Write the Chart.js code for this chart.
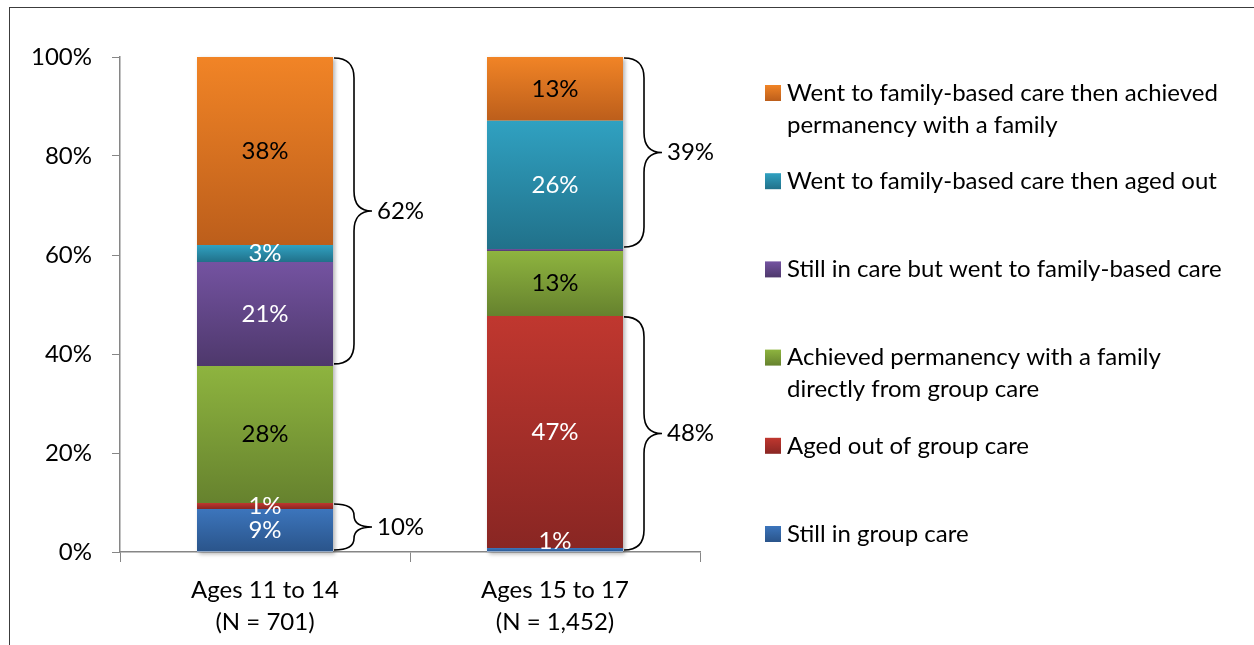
<!DOCTYPE html>
<html>
<head>
<meta charset="utf-8">
<title>Group care outcomes by age</title>
<script src="https://cdn.jsdelivr.net/npm/chart.js@4"></script>
<style>
html, body { margin: 0; padding: 0; background: #fff; }
#wrap { position: relative; width: 1254px; height: 645px; overflow: hidden; }
#frame { position: absolute; left: 9px; top: 7px; width: 1300px; height: 700px;
  border-left: 1.5px solid #3c3c3c; border-top: 1.5px solid #3c3c3c; pointer-events: none; }
</style>
</head>
<body>
<div id="wrap">
  <canvas id="outcomeChart" width="1254" height="645"></canvas>
  <div id="frame"></div>
</div>
<script>
// categories on the x axis (two lines each)
const categories = [["Ages 11 to 14", "(N = 701)"], ["Ages 15 to 17", "(N = 1,452)"]];

// values in percent, stack order from the bottom up
const stillInGroupCare = [8.7, 0.8];
const agedOutOfGroupCare = [1.2, 46.9];
const permanencyFromGroupCare = [27.7, 13.1];
const stillInCareFamilyBased = [21.0, 0.4];
const familyBasedThenAgedOut = [3.4, 25.9];
const familyBasedThenPermanency = [38.0, 12.9];

const yTicks = [0, 20, 40, 60, 80, 100];

// braces to the right of the bars
const bracketText = ["62%", "10%", "39%", "48%"];
const bracketCategory = [0, 0, 1, 1];
const bracketFrom = [3, 0, 4, 0];
const bracketTo = [5, 1, 5, 1];

const series = [
  { name: ["Still in group care"], data: stillInGroupCare, top: "#3C75BC", bottom: "#2A548A", text: "#fff" },
  { name: ["Aged out of group care"], data: agedOutOfGroupCare, top: "#C0372F", bottom: "#892623", text: "#fff" },
  { name: ["Achieved permanency with a family", "directly from group care"], data: permanencyFromGroupCare, top: "#8EB43F", bottom: "#66822E", text: "#000" },
  { name: ["Still in care but went to family-based care"], data: stillInCareFamilyBased, top: "#7453A1", bottom: "#4E386C", text: "#fff" },
  { name: ["Went to family-based care then aged out"], data: familyBasedThenAgedOut, top: "#30A1C1", bottom: "#21718A", text: "#fff" },
  { name: ["Went to family-based care then achieved", "permanency with a family"], data: familyBasedThenPermanency, top: "#F18426", bottom: "#BC5E1B", text: "#000" }
];

const FONT = "Lato";
const FSIZE = 24;
Chart.defaults.font.family = FONT;
Chart.defaults.font.size = FSIZE;
Chart.defaults.color = "#000";

function segmentFill(ctx) {
  const s = series[ctx.datasetIndex];
  const chart = ctx.chart;
  const y = chart.scales.y;
  if (ctx.type !== "data" || !chart.chartArea || !y) return s.top;
  const sets = chart.data.datasets;
  let start = 0;
  for (let k = 0; k < ctx.datasetIndex; k++) start += sets[k].data[ctx.dataIndex];
  const end = start + sets[ctx.datasetIndex].data[ctx.dataIndex];
  const p0 = y.getPixelForValue(end), p1 = y.getPixelForValue(start);
  if (!(p1 > p0)) return s.top;
  const g = chart.ctx.createLinearGradient(0, p0, 0, p1);
  g.addColorStop(0, s.top);
  g.addColorStop(1, s.bottom);
  return g;
}

// soft shadow behind each whole bar
const barShadow = {
  id: "barShadow",
  beforeDatasetsDraw(chart) {
    const ctx = chart.ctx, y = chart.scales.y;
    const meta = chart.getDatasetMeta(0);
    ctx.save();
    ctx.shadowColor = "rgba(0,0,0,0.3)";
    ctx.shadowBlur = 4;
    ctx.shadowOffsetX = 2;
    ctx.shadowOffsetY = 2;
    ctx.fillStyle = "#fff";
    meta.data.forEach((el, i) => {
      let total = 0;
      chart.data.datasets.forEach(d => total += d.data[i]);
      const top = y.getPixelForValue(total), base = y.getPixelForValue(0);
      ctx.fillRect(el.x - el.width / 2, top, el.width, base - top);
    });
    ctx.restore();
  }
};

// value labels in the middle of each segment
const segmentLabels = {
  id: "segmentLabels",
  afterDatasetsDraw(chart) {
    const ctx = chart.ctx;
    const floor = chart.chartArea.bottom - 11;
    ctx.save();
    ctx.font = FSIZE + "px " + FONT;
    ctx.textAlign = "center";
    ctx.textBaseline = "middle";
    chart.data.datasets.forEach((d, ds) => {
      chart.getDatasetMeta(ds).data.forEach((el, i) => {
        const v = d.data[i];
        if (v < 0.5) return;
        let cy = (el.y + el.base) / 2;
        if (cy > floor) cy = floor;
        ctx.fillStyle = series[ds].text;
        ctx.fillText(Math.round(v) + "%", el.x, cy);
      });
    });
    ctx.restore();
  }
};

// curly braces with totals
const braces = {
  id: "braces",
  afterDatasetsDraw(chart) {
    const ctx = chart.ctx, y = chart.scales.y;
    const sets = chart.data.datasets;
    ctx.save();
    ctx.strokeStyle = "#000";
    ctx.lineWidth = 1.6;
    ctx.fillStyle = "#000";
    ctx.font = FSIZE + "px " + FONT;
    ctx.textBaseline = "middle";
    bracketText.forEach((txt, b) => {
      const c = bracketCategory[b];
      let lo = 0;
      for (let k = 0; k < bracketFrom[b]; k++) lo += sets[k].data[c];
      let hi = lo;
      for (let k = bracketFrom[b]; k <= bracketTo[b]; k++) hi += sets[k].data[c];
      const el = chart.getDatasetMeta(0).data[c];
      const x0 = el.x + el.width / 2 + 1;
      const top = y.getPixelForValue(hi) + 1, bottom = y.getPixelForValue(lo) - 2;
      const mid = (top + bottom) / 2;
      const w = 20;
      const r = Math.min(20, (bottom - top) / 4);
      ctx.beginPath();
      ctx.moveTo(x0, top);
      ctx.quadraticCurveTo(x0 + w, top, x0 + w, top + r);
      ctx.lineTo(x0 + w, mid - r);
      ctx.quadraticCurveTo(x0 + w, mid, x0 + w + 18, mid);
      ctx.moveTo(x0 + w + 18, mid);
      ctx.quadraticCurveTo(x0 + w, mid, x0 + w, mid + r);
      ctx.lineTo(x0 + w, bottom - r);
      ctx.quadraticCurveTo(x0 + w, bottom, x0, bottom);
      ctx.stroke();
      ctx.textAlign = "left";
      ctx.fillText(txt, x0 + w + 23, mid);
    });
    ctx.restore();
  }
};

// legend at the right, top entry = top of the stack
const sideLegend = {
  id: "sideLegend",
  afterDraw(chart) {
    const ctx = chart.ctx;
    const x = 765, firstY = 93, step = 88.2, lineH = 32, sw = 16;
    ctx.save();
    ctx.font = FSIZE + "px " + FONT;
    ctx.textAlign = "left";
    ctx.textBaseline = "middle";
    series.slice().reverse().forEach((s, n) => {
      const cy = firstY + n * step;
      const g = ctx.createLinearGradient(0, cy - sw / 2, 0, cy + sw / 2);
      g.addColorStop(0, s.top);
      g.addColorStop(1, s.bottom);
      ctx.fillStyle = g;
      ctx.fillRect(x, cy - sw / 2, sw, sw);
      ctx.fillStyle = "#000";
      s.name.forEach((line, j) => ctx.fillText(line, x + sw + 6, cy + j * lineH));
    });
    ctx.restore();
  }
};

const chart = new Chart(document.getElementById("outcomeChart"), {
  type: "bar",
  data: {
    labels: categories,
    datasets: series.map(s => ({
      label: s.name.join(" "),
      data: s.data,
      backgroundColor: segmentFill,
      borderWidth: 0,
      barPercentage: 0.469,
      categoryPercentage: 1
    }))
  },
  options: {
    responsive: false,
    animation: false,
    layout: { padding: { top: 57, right: 554, bottom: 0, left: 0 } },
    plugins: { legend: { display: false }, tooltip: { enabled: false } },
    scales: {
      x: {
        stacked: true,
        grid: { drawOnChartArea: false, tickLength: 10, color: "#868686", offset: true },
        border: { color: "#868686", width: 1.5 },
        ticks: { padding: 12, color: "#000", font: { size: FSIZE, lineHeight: 1.333 } },
        afterFit(scale) { scale.height = 93; }
      },
      y: {
        stacked: true,
        min: 0,
        max: 100,
        afterBuildTicks(scale) { scale.ticks = yTicks.map(v => ({ value: v })); },
        grid: { drawOnChartArea: false, tickLength: 8, color: "#868686" },
        border: { color: "#868686", width: 1.5 },
        ticks: { padding: 20, color: "#000", callback: v => v + "%" },
        afterFit(scale) { scale.width = 120; }
      }
    }
  },
  plugins: [barShadow, segmentLabels, braces, sideLegend]
});
</script>
</body>
</html>
